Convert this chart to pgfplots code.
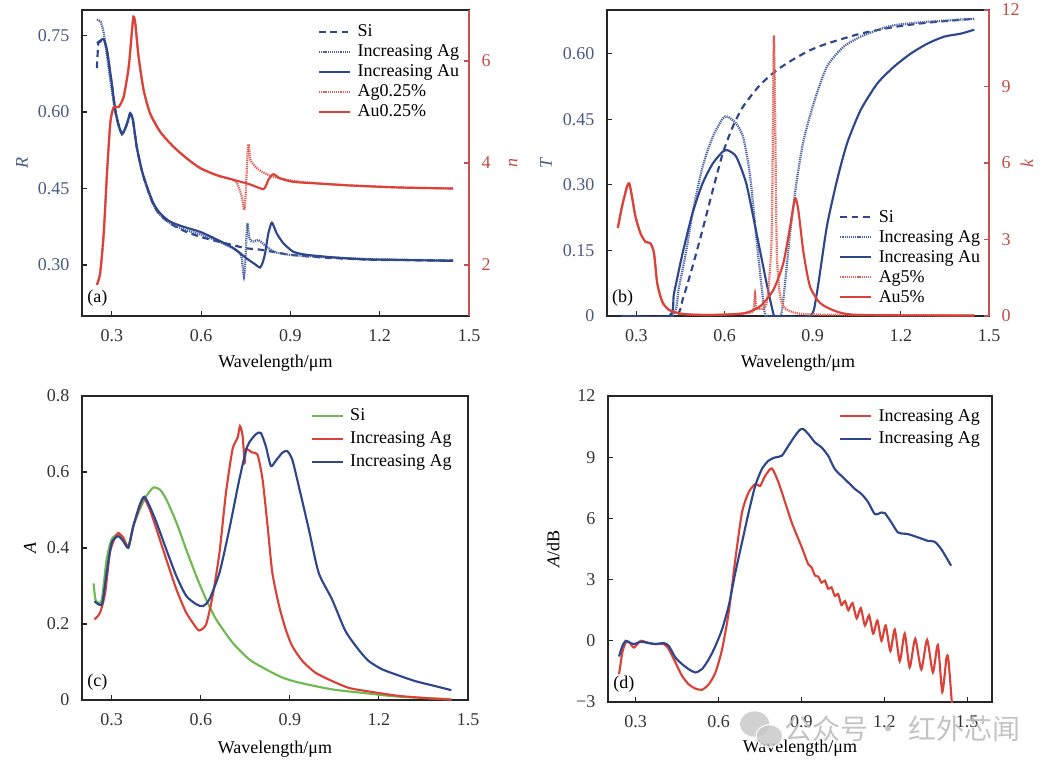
\documentclass[border=0pt]{standalone}
\usepackage{pgfplots}
\pgfplotsset{compat=1.18}
\usepackage{fontspec}
\setmainfont{Liberation Serif}
\newfontfamily\cjk{Noto Sans CJK SC}
\newcommand\fs{\fontsize{13.5pt}{16pt}\selectfont}
\definecolor{myblue}{HTML}{2D468C}
\definecolor{myred}{HTML}{DC4137}
\definecolor{mygreen}{HTML}{6EB950}
\definecolor{tickblue}{HTML}{4B5A80}
\definecolor{tickred}{HTML}{C34B46}
\definecolor{spinered}{HTML}{C85050}
\pgfplotsset{
  every axis plot/.append style={smooth, tension=0.4},
  base/.style={
    scale only axis,
    xmin=0.2, xmax=1.5,
    xtick={0.3,0.6,0.9,1.2,1.5},
    xticklabels={0.3,0.6,0.9,1.2,1.5},
    xtick pos=bottom, ytick pos=left,
    tick align=inside,
    major tick length=4pt,
    /pgf/number format/assume math mode=true,
    ticklabel style={font=\fs, text=black!80},
    label style={font=\fs},
    xticklabel style={yshift=-6.5pt},
    yticklabel style={xshift=-6pt},
    xlabel={Wavelength/μm},
    xlabel style={at={(axis description cs:0.5,-0.155)}, anchor=center},
    axis line style={draw=black!85, line width=0.9pt},
    every tick/.style={black!85, line width=0.8pt},
    legend cell align=left,
    legend image code/.code={\draw[##1] (0pt,0pt) -- (23pt,0pt);},
    legend style={draw=none, fill=none, font=\fs, inner sep=0pt, column sep=4pt, row sep=0pt,
      nodes={inner sep=1pt, text height=10pt, text depth=3pt}},
  },
  rax/.style={
    scale only axis,
    xmin=0.2, xmax=1.5,
    axis x line=none,
    axis y line*=right,
    tick align=inside,
    major tick length=4pt,
    ticklabel style={font=\fs, text=tickred},
    label style={font=\fs, text=tickred},
    yticklabel style={xshift=6pt},
    y axis line style={draw=spinered, line width=0.9pt, -},
    every tick/.style={spinered, line width=0.8pt},
    legend cell align=left,
    legend image code/.code={\draw[##1] (0pt,0pt) -- (23pt,0pt);},
    legend style={draw=none, fill=none, font=\fs, inner sep=0pt, column sep=4pt, row sep=0pt,
      nodes={inner sep=1pt, text height=10pt, text depth=3pt}},
  },
  sidash/.style={myblue, line width=1.6pt, dash pattern=on 5pt off 3.5pt},
  bdot/.style={myblue!85, line width=1.7pt, dash pattern=on 0.9pt off 0.7pt},
  bsol/.style={myblue, line width=1.6pt},
  rdot/.style={myred!85, line width=1.7pt, dash pattern=on 0.9pt off 0.7pt},
  rsol/.style={myred, line width=1.6pt},
}
\begin{document}
\begin{tikzpicture}
\useasboundingbox (0,0) rectangle (792pt,-579pt);
% ---------------- (a)
\begin{axis}[base, at={(61.5pt,-237pt)}, anchor=south west, width=290.25pt, height=229.5pt,
  ymin=0.2, ymax=0.8, ytick={0.30,0.45,0.60,0.75}, yticklabels={0.30,0.45,0.60,0.75},
  yticklabel style={text=tickblue},
  ylabel={\textit{R}}, ylabel style={at={(axis description cs:-0.155,0.5)}, anchor=center, text=tickblue}]
\addplot[sidash] coordinates {(0.250,0.686) (0.255,0.735) (0.262,0.738) (0.273,0.742) (0.284,0.720) (0.300,0.655) (0.312,0.602) (0.323,0.574) (0.334,0.557) (0.345,0.567) (0.355,0.584) (0.362,0.597) (0.371,0.584) (0.384,0.531) (0.401,0.485) (0.418,0.453) (0.440,0.418) (0.463,0.398) (0.500,0.380) (0.550,0.365) (0.600,0.355) (0.650,0.347) (0.700,0.340) (0.750,0.333) (0.800,0.330) (0.850,0.325) (0.900,0.320) (1.000,0.315) (1.100,0.312) (1.200,0.310) (1.447,0.309)};
\addplot[bdot] coordinates {(0.250,0.781) (0.262,0.778) (0.273,0.755) (0.284,0.709) (0.300,0.643) (0.312,0.600) (0.323,0.572) (0.334,0.556) (0.345,0.566) (0.355,0.583) (0.362,0.596) (0.371,0.583) (0.384,0.530) (0.401,0.484) (0.418,0.452) (0.440,0.418) (0.463,0.398) (0.496,0.382) (0.541,0.370) (0.597,0.360) (0.653,0.348) (0.700,0.335) (0.720,0.328) (0.735,0.318) (0.740,0.295) (0.744,0.277) (0.748,0.300) (0.752,0.350) (0.756,0.382) (0.760,0.360) (0.765,0.349) (0.776,0.346) (0.793,0.349) (0.820,0.336) (0.850,0.325) (0.900,0.320) (1.000,0.316) (1.100,0.313) (1.200,0.311) (1.300,0.310) (1.447,0.309)};
\addplot[bsol] coordinates {(0.250,0.735) (0.262,0.740) (0.273,0.743) (0.284,0.722) (0.292,0.690) (0.300,0.657) (0.312,0.604) (0.323,0.575) (0.334,0.558) (0.345,0.568) (0.355,0.585) (0.362,0.598) (0.371,0.585) (0.384,0.532) (0.401,0.486) (0.418,0.454) (0.440,0.421) (0.463,0.401) (0.496,0.385) (0.541,0.375) (0.597,0.365) (0.653,0.350) (0.709,0.333) (0.753,0.313) (0.780,0.302) (0.798,0.295) (0.807,0.305) (0.815,0.323) (0.826,0.362) (0.837,0.383) (0.845,0.375) (0.854,0.362) (0.876,0.343) (0.910,0.326) (0.955,0.320) (1.044,0.315) (1.156,0.311) (1.268,0.310) (1.447,0.308)};
\node[anchor=south west, inner sep=0pt, font=\fs] at (rel axis cs:0.013,0.03) {(a)};
\end{axis}
\begin{axis}[rax, at={(61.5pt,-237pt)}, anchor=south west, width=290.25pt, height=229.5pt,
  ymin=1, ymax=7, ytick={2,4,6}, yticklabels={2,4,6},
  ylabel={\textit{n}}, ylabel style={at={(axis description cs:1.114,0.5)}, anchor=center},
  legend style={at={(rel axis cs:0.609,0.961)}, anchor=north west}]
\addlegendimage{sidash}\addlegendentry{Si}
\addlegendimage{bdot}\addlegendentry{Increasing Ag}
\addlegendimage{bsol}\addlegendentry{Increasing Au}
\addplot[rdot] coordinates {(0.250,1.61) (0.261,1.84) (0.273,2.62) (0.284,3.80) (0.295,4.78) (0.306,5.09) (0.323,5.10) (0.340,5.30) (0.357,5.89) (0.368,6.61) (0.373,6.87) (0.379,6.74) (0.390,6.09) (0.407,5.43) (0.429,4.97) (0.463,4.61) (0.507,4.32) (0.552,4.09) (0.597,3.90) (0.653,3.76) (0.709,3.67) (0.720,3.62) (0.737,3.34) (0.745,3.08) (0.750,3.40) (0.756,4.19) (0.760,4.37) (0.766,4.06) (0.787,3.90) (0.810,3.81) (0.843,3.73) (0.889,3.67) (0.950,3.62) (1.100,3.56) (1.268,3.52) (1.447,3.50)};
\addlegendentry{Ag0.25\%}
\addplot[rsol] coordinates {(0.250,1.61) (0.261,1.84) (0.273,2.62) (0.284,3.80) (0.295,4.78) (0.306,5.09) (0.323,5.10) (0.340,5.30) (0.357,5.89) (0.368,6.61) (0.373,6.87) (0.379,6.74) (0.390,6.09) (0.407,5.43) (0.429,4.97) (0.463,4.61) (0.507,4.32) (0.552,4.09) (0.597,3.90) (0.653,3.76) (0.709,3.67) (0.765,3.58) (0.810,3.49) (0.826,3.67) (0.843,3.78) (0.865,3.70) (0.910,3.63) (0.988,3.60) (1.100,3.56) (1.268,3.52) (1.447,3.50)};
\addlegendentry{Au0.25\%}
\end{axis}
% ---------------- (b)
\begin{axis}[base, at={(455.25pt,-237pt)}, anchor=south west, width=286.5pt, height=229.5pt,
  ymin=0, ymax=0.7, ytick={0,0.15,0.30,0.45,0.60}, yticklabels={0,0.15,0.30,0.45,0.60},
  yticklabel style={text=tickblue},
  ylabel={\textit{T}}, ylabel style={at={(axis description cs:-0.160,0.5)}, anchor=center, text=tickblue}]
\addplot[sidash] coordinates {(0.25,0) (0.43,0) (0.457,0.037) (0.491,0.113) (0.525,0.197) (0.56,0.288) (0.594,0.372) (0.628,0.433) (0.663,0.479) (0.72,0.528) (0.777,0.562) (0.834,0.587) (0.891,0.608) (0.948,0.623) (1.063,0.646) (1.176,0.661) (1.29,0.671) (1.45,0.680)};
\addplot[bdot] coordinates {(0.25,0) (0.42,0) (0.445,0.067) (0.468,0.143) (0.491,0.235) (0.525,0.341) (0.56,0.41) (0.594,0.452) (0.611,0.456) (0.64,0.44) (0.663,0.41) (0.686,0.326) (0.709,0.174) (0.726,0.067) (0.737,0.006) (0.745,0) (0.789,0) (0.8,0.037) (0.823,0.189) (0.846,0.311) (0.869,0.402) (0.903,0.486) (0.948,0.57) (1.005,0.616) (1.063,0.639) (1.12,0.654) (1.176,0.665) (1.29,0.673) (1.45,0.680)};
\addplot[bsol] coordinates {(0.25,0) (0.411,0) (0.428,0.052) (0.457,0.143) (0.491,0.235) (0.525,0.303) (0.56,0.349) (0.594,0.376) (0.611,0.379) (0.64,0.364) (0.674,0.303) (0.709,0.189) (0.743,0.075) (0.766,0.006) (0.775,0) (0.891,0) (0.914,0.052) (0.948,0.204) (0.983,0.311) (1.017,0.395) (1.063,0.471) (1.12,0.532) (1.176,0.570) (1.233,0.600) (1.29,0.623) (1.347,0.639) (1.404,0.646) (1.45,0.655)};
\node[anchor=south west, inner sep=0pt, font=\fs] at (rel axis cs:0.013,0.03) {(b)};
\end{axis}
\begin{axis}[rax, at={(455.25pt,-237pt)}, anchor=south west, width=286.5pt, height=229.5pt,
  ymin=0, ymax=12, ytick={0,3,6,9,12}, yticklabels={0,3,6,9,12},
  ylabel={\textit{k}}, ylabel style={at={(axis description cs:1.099,0.5)}, anchor=center},
  legend style={at={(rel axis cs:0.607,0.356)}, anchor=north west}]
\addlegendimage{sidash}\addlegendentry{Si}
\addlegendimage{bdot}\addlegendentry{Increasing Ag}
\addlegendimage{bsol}\addlegendentry{Increasing Au}
\addplot[rdot] coordinates {(0.237,3.46) (0.251,4.29) (0.268,5.07) (0.276,5.20) (0.285,4.68) (0.297,3.89) (0.314,3.24) (0.331,2.91) (0.348,2.85) (0.360,2.46) (0.371,1.28) (0.388,0.56) (0.411,0.24) (0.457,0.08) (0.548,0.04) (0.663,0.10) (0.697,0.2) (0.704,0.9) (0.709,0.3) (0.743,0.5) (0.760,3.0) (0.765,8.0) (0.768,11.0) (0.772,8.0) (0.778,2.5) (0.789,0.8) (0.806,0.3) (0.85,0.1) (0.95,0.05) (1.45,0.02)};
\addlegendentry{Ag5\%}
\addplot[rsol] coordinates {(0.237,3.46) (0.251,4.29) (0.268,5.07) (0.276,5.20) (0.285,4.68) (0.297,3.89) (0.314,3.24) (0.331,2.91) (0.348,2.85) (0.360,2.46) (0.371,1.28) (0.388,0.56) (0.411,0.24) (0.457,0.08) (0.548,0.04) (0.663,0.10) (0.720,0.37) (0.766,1.02) (0.800,2.07) (0.823,3.50) (0.840,4.61) (0.851,4.16) (0.869,2.46) (0.891,1.15) (0.926,0.50) (0.983,0.17) (1.063,0.04) (1.45,0.02)};
\addlegendentry{Au5\%}
\end{axis}
% ---------------- (c)
\begin{axis}[base, at={(61.5pt,-525pt)}, anchor=south west, width=289.5pt, height=228pt,
  ymin=0, ymax=0.8, ytick={0,0.2,0.4,0.6,0.8}, yticklabels={0,0.2,0.4,0.6,0.8},
  ylabel={\textit{A}}, ylabel style={at={(axis description cs:-0.135,0.5)}, anchor=center},
  xlabel style={at={(axis description cs:0.5,-0.161)}},
  legend style={at={(rel axis cs:0.592,0.967)}, anchor=north west, row sep=2pt}]
\addplot[mygreen, line width=1.6pt] coordinates {(0.239,0.307) (0.245,0.265) (0.255,0.256) (0.267,0.265) (0.283,0.37) (0.300,0.423) (0.322,0.436) (0.339,0.427) (0.356,0.405) (0.373,0.458) (0.395,0.502) (0.417,0.537) (0.440,0.559) (0.462,0.554) (0.484,0.528) (0.518,0.467) (0.551,0.396) (0.585,0.326) (0.618,0.265) (0.652,0.212) (0.707,0.151) (0.763,0.107) (0.819,0.081) (0.875,0.059) (0.930,0.046) (1.042,0.028) (1.154,0.018) (1.265,0.009) (1.444,0.002)};
\addlegendentry{Si}
\addplot[myred, line width=1.6pt] coordinates {(0.242,0.212) (0.261,0.23) (0.278,0.282) (0.294,0.388) (0.311,0.427) (0.322,0.44) (0.339,0.427) (0.356,0.401) (0.373,0.458) (0.395,0.51) (0.408,0.532) (0.428,0.502) (0.451,0.449) (0.484,0.37) (0.518,0.291) (0.551,0.23) (0.585,0.19) (0.596,0.183) (0.618,0.199) (0.640,0.274) (0.663,0.388) (0.685,0.546) (0.707,0.66) (0.724,0.69) (0.732,0.721) (0.741,0.695) (0.748,0.624) (0.752,0.66) (0.774,0.651) (0.791,0.646) (0.808,0.581) (0.825,0.458) (0.841,0.335) (0.864,0.247) (0.886,0.186) (0.908,0.142) (0.942,0.103) (0.986,0.072) (1.042,0.05) (1.098,0.032) (1.154,0.024) (1.265,0.011) (1.377,0.004) (1.444,0.001)};
\addlegendentry{Increasing Ag}
\addplot[myblue, line width=1.6pt] coordinates {(0.242,0.26) (0.267,0.252) (0.283,0.335) (0.300,0.414) (0.322,0.431) (0.339,0.418) (0.356,0.401) (0.373,0.458) (0.395,0.515) (0.410,0.535) (0.428,0.51) (0.451,0.467) (0.484,0.396) (0.518,0.326) (0.551,0.274) (0.585,0.252) (0.607,0.247) (0.629,0.265) (0.663,0.335) (0.696,0.449) (0.730,0.581) (0.757,0.668) (0.785,0.699) (0.802,0.703) (0.819,0.668) (0.836,0.616) (0.852,0.629) (0.875,0.651) (0.891,0.655) (0.908,0.633) (0.930,0.563) (0.964,0.449) (0.997,0.335) (1.042,0.265) (1.087,0.182) (1.131,0.133) (1.165,0.103) (1.210,0.081) (1.265,0.065) (1.321,0.05) (1.377,0.039) (1.444,0.026)};
\addlegendentry{Increasing Ag}
\node[anchor=south west, inner sep=0pt, font=\fs] at (rel axis cs:0.013,0.03) {(c)};
\end{axis}
% ---------------- (d)
\begin{axis}[base, at={(456pt,-526.5pt)}, anchor=south west, width=288pt, height=229.5pt,
  xmax=1.59,
  ymin=-3, ymax=12, ytick={-3,0,3,6,9,12}, yticklabels={−3,0,3,6,9,12},
  ylabel={\textit{A}/dB}, ylabel style={at={(axis description cs:-0.143,0.5)}, anchor=center},
  xlabel style={at={(axis description cs:0.5,-0.150)}},
  legend style={at={(rel axis cs:0.601,0.967)}, anchor=north west, row sep=2pt}]
\addplot[myred, line width=1.6pt] coordinates {(0.240,-1.64) (0.252,-0.57) (0.264,-0.08) (0.276,-0.05) (0.294,-0.33) (0.318,0) (0.348,-0.11) (0.372,-0.16) (0.402,-0.16) (0.420,-0.41) (0.444,-1.06) (0.468,-1.72) (0.492,-2.13) (0.516,-2.34) (0.540,-2.40) (0.565,-2.13) (0.589,-1.55) (0.613,-0.41) (0.637,1.39) (0.661,4.0) (0.685,6.29) (0.709,7.28) (0.733,7.68) (0.751,7.6) (0.769,8.09) (0.793,8.45) (0.817,7.77) (0.841,6.79) (0.865,5.8) (0.889,4.99) (0.901,4.6) (0.913,4.17) (0.925,3.75) (0.937,3.6) (0.949,3.2) (0.961,3.15) (0.973,2.85) (0.985,2.95) (0.997,2.55) (1.009,2.62) (1.021,2.2) (1.033,2.3) (1.045,1.75) (1.058,1.95) (1.070,1.5) (1.085,1.85) (1.100,1.1) (1.115,1.6) (1.130,0.75) (1.145,1.25) (1.160,0.35) (1.175,1.0) (1.190,0.0) (1.205,0.75) (1.222,-0.5) (1.238,0.55) (1.256,-1.0) (1.274,0.35) (1.292,-1.3) (1.312,0.1) (1.334,-1.4) (1.355,0.05) (1.376,-1.55) (1.394,-0.2) (1.410,-2.5) (1.425,-0.85) (1.432,-0.9) (1.445,-3.1)};
\addlegendentry{Increasing Ag}
\addplot[myblue, line width=1.6pt] coordinates {(0.240,-0.77) (0.252,-0.25) (0.264,0) (0.276,-0.08) (0.294,-0.16) (0.318,-0.05) (0.348,-0.11) (0.372,-0.16) (0.402,-0.11) (0.420,-0.25) (0.444,-0.82) (0.468,-1.14) (0.492,-1.39) (0.516,-1.55) (0.540,-1.39) (0.565,-0.9) (0.589,-0.25) (0.613,0.57) (0.637,1.72) (0.661,3.35) (0.685,4.82) (0.709,6.29) (0.733,7.6) (0.757,8.42) (0.781,8.83) (0.805,8.99) (0.829,9.07) (0.853,9.56) (0.877,10.05) (0.895,10.35) (0.907,10.38) (0.925,10.14) (0.949,9.73) (0.973,9.48) (0.997,9.07) (1.021,8.42) (1.057,7.93) (1.094,7.44) (1.118,7.19) (1.142,6.79) (1.166,6.21) (1.190,6.29) (1.202,6.26) (1.226,5.80) (1.250,5.31) (1.286,5.23) (1.322,5.07) (1.358,4.9) (1.382,4.86) (1.406,4.5) (1.442,3.68)};
\addlegendentry{Increasing Ag}
\node[anchor=south west, inner sep=0pt, font=\fs] at (rel axis cs:0.013,0.03) {(d)};
\end{axis}
% watermark
\fill[gray!45, opacity=0.8] (566pt,-543pt) ellipse (11pt and 9.5pt);
\fill[gray!45, opacity=0.8, draw=white, line width=1pt] (577pt,-552pt) ellipse (10pt and 8.5pt);
\node[text=gray!55, opacity=0.85, font=\cjk\fontsize{21pt}{24pt}\selectfont] at (677pt,-546.75pt) {公众号 · 红外芯闻};
\end{tikzpicture}
\end{document}
